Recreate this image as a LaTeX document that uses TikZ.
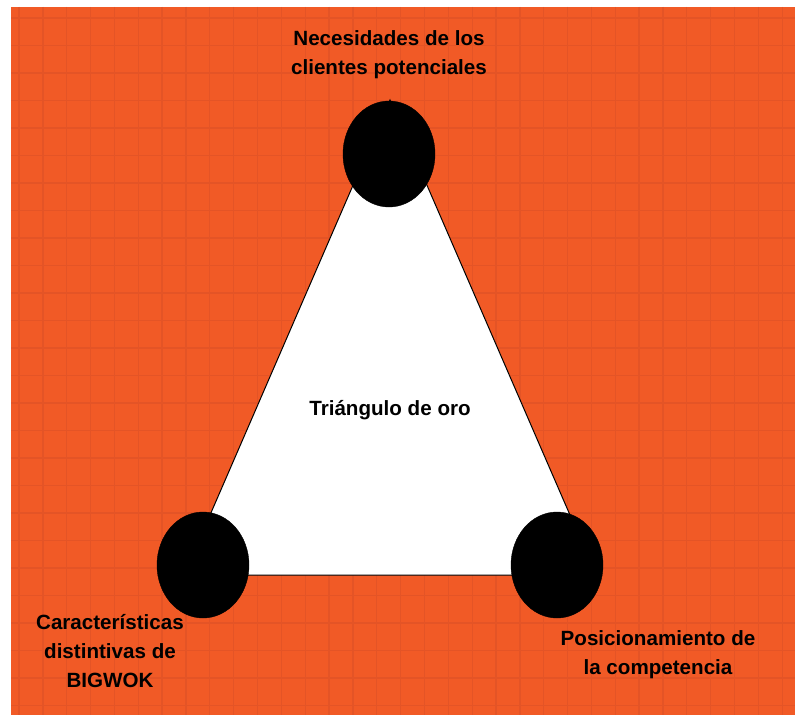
\documentclass[tikz,border=0pt]{standalone}
\usepackage{fontspec}
\setmainfont{Liberation Sans}
\usetikzlibrary{shapes.geometric, positioning}
\definecolor{boardorange}{HTML}{F15A26}
\definecolor{gridorange}{HTML}{E45426}

\begin{document}
\begin{tikzpicture}[x=1pt, y=-1pt,
    labeltext/.style={font=\bfseries\fontsize{20.6}{29}\selectfont, align=center, inner sep=0pt},
    cornerdot/.style={ellipse, fill=black, draw=black, minimum width=92pt, minimum height=106pt, inner sep=0pt}]
    % canvas and grid paper
    \useasboundingbox (0,0) rectangle (795,714.5);
    \fill[white] (0,0) rectangle (795,714.5);
    \fill[boardorange] (11,7) rectangle (797,718);
    \begin{scope}
        \clip (11,7) rectangle (797,718);
        \foreach \i in {0,...,32}
            \draw[gridorange, line width=1.3pt] ({19+23.85*\i},7) -- ({19+23.85*\i},718);
        \foreach \j in {0,...,25}
            \draw[gridorange, line width=1.3pt] (11,{18+27.5*\j}) -- (797,{18+27.5*\j});
    \end{scope}
    % the triangle
    \coordinate (apex) at (390,100);
    \coordinate (leftcorner) at (184,575);
    \coordinate (rightcorner) at (596,575);
    \draw[fill=white, line width=1pt] (apex) -- (leftcorner) -- (rightcorner) -- cycle;
    \node[labeltext] (gold) at (390,410) {Triángulo de oro};
    % corner dots
    \node[cornerdot] (needs) at (389,154) {};
    \node[cornerdot] (traits) at (203,565) {};
    \node[cornerdot] (rivals) at (557,565) {};
    % corner labels
    \node[labeltext] (needstext) at (389,55) {Necesidades de los\\clientes potenciales};
    \node[labeltext] (traitstext) at (110,651) {Características\\distintivas de\\BIGWOK};
    \node[labeltext] (rivalstext) at (658,655) {Posicionamiento de\\la competencia};
\end{tikzpicture}
\end{document}
